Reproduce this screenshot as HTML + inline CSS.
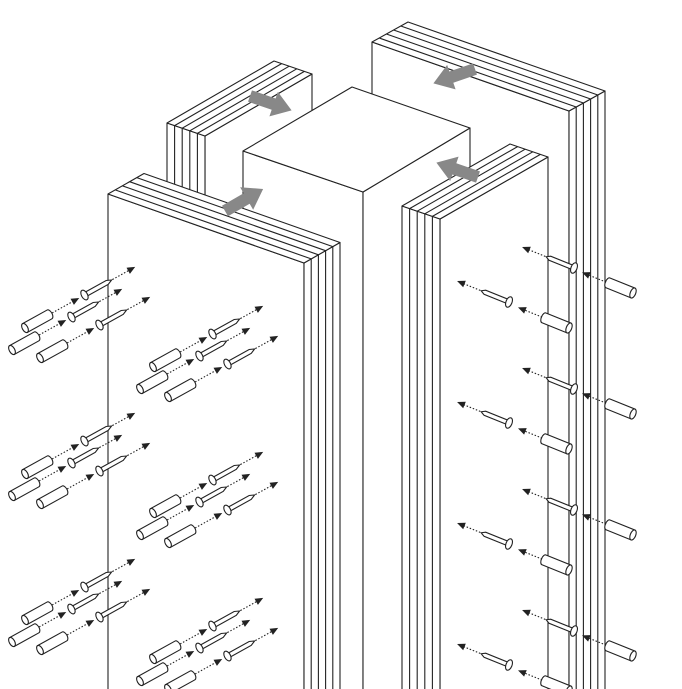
<!DOCTYPE html>
<html><head><meta charset="utf-8"><style>html,body{margin:0;padding:0;background:#fff}svg{display:block}</style></head>
<body>
<svg width="682" height="689" viewBox="0 0 682 689" xmlns="http://www.w3.org/2000/svg">
<defs>
<g id="ln" stroke="#222" stroke-width="1.1" fill="#fff">
  <path d="M0,-5 L28,-5 A2.7,5 0 0 1 28,5 L0,5 Z"/>
  <ellipse cx="0" cy="0" rx="2.7" ry="5"/>
  <line x1="31" y1="0" x2="56" y2="0" stroke-dasharray="1.5 1.8"/>
  <polygon points="62,0 54,-3.5 54,3.5" fill="#222" stroke="none"/>
  <path d="M68,-2.2 L94,-2.2 L99,0 L94,2.2 L68,2.2 Z"/>
  <ellipse cx="68" cy="0" rx="3" ry="5.3"/>
  <line x1="100" y1="0" x2="120" y2="0" stroke-dasharray="1.5 1.8"/>
  <polygon points="126,0 118,-3.5 118,3.5" fill="#222" stroke="none"/>
</g>
<g id="rn" stroke="#222" stroke-width="1.1" fill="#fff">
  <path d="M0,-2.2 L26,-2.2 L30,0 L26,2.2 L0,2.2 Z"/>
  <ellipse cx="0" cy="0" rx="3" ry="5.5"/>
  <line x1="31" y1="0" x2="50" y2="0" stroke-dasharray="1.5 1.8"/>
  <polygon points="56,0 48,-3.5 48,3.5" fill="#222" stroke="none"/>
</g>
<g id="rc" stroke="#222" stroke-width="1.1" fill="#fff">
  <path d="M0,-5.3 L27,-5.3 A2.7,5.3 0 0 1 27,5.3 L0,5.3 Z"/>
  <ellipse cx="0" cy="0" rx="2.7" ry="5.3"/>
  <line x1="29" y1="0" x2="49" y2="0" stroke-dasharray="1.5 1.8"/>
  <polygon points="55,0 47,-3.5 47,3.5" fill="#222" stroke="none"/>
</g>
<path id="ga" d="M0,-6 L25,-6 L25,-13 L44,0 L25,13 L25,6 L0,6 Z" fill="#888"/>
</defs>

<g stroke="#222" stroke-width="1.1" fill="#fff" stroke-linejoin="round">
<polygon points="372,42 569,111 569,700 372,700"/>
<polygon points="569,111 605,91 605,700 569,700"/>
<polygon points="372,42 408,22 605,91 569,111"/>
<g fill="none">
<line x1="379.2" y1="38" x2="576.2" y2="107"/>
<line x1="386.4" y1="34" x2="583.4" y2="103"/>
<line x1="393.6" y1="30" x2="590.6" y2="99"/>
<line x1="400.8" y1="26" x2="597.8" y2="95"/>
<line x1="576.2" y1="107" x2="576.2" y2="700"/>
<line x1="583.4" y1="103" x2="583.4" y2="700"/>
<line x1="590.6" y1="99" x2="590.6" y2="700"/>
<line x1="597.8" y1="95" x2="597.8" y2="700"/>
</g>

<polygon points="205,136 312,74 312,300 205,300"/>
<polygon points="167,123 205,136 205,300 167,300"/>
<polygon points="167,123 274,61 312,74 205,136"/>
<g fill="none">
<line x1="174.6" y1="125.6" x2="281.6" y2="63.6"/>
<line x1="182.2" y1="128.2" x2="289.2" y2="66.2"/>
<line x1="189.8" y1="130.8" x2="296.8" y2="68.8"/>
<line x1="197.4" y1="133.4" x2="304.4" y2="71.4"/>
<line x1="174.6" y1="125.6" x2="174.6" y2="300"/>
<line x1="182.2" y1="128.2" x2="182.2" y2="300"/>
<line x1="189.8" y1="130.8" x2="189.8" y2="300"/>
<line x1="197.4" y1="133.4" x2="197.4" y2="300"/>
</g>

<polygon points="243,151 363,192 363,700 243,700"/>
<polygon points="363,192 470,128 470,700 363,700"/>
<polygon points="243,151 352,87 470,128 363,192"/>

<polygon points="108,194 304,263 304,700 108,700"/>
<polygon points="304,263 340,242.5 340,700 304,700"/>
<polygon points="108,194 144,173.5 340,242.5 304,263"/>
<g fill="none">
<line x1="115.2" y1="189.9" x2="311.2" y2="258.9"/>
<line x1="122.4" y1="185.8" x2="318.4" y2="254.8"/>
<line x1="129.6" y1="181.7" x2="325.6" y2="250.7"/>
<line x1="136.8" y1="177.6" x2="332.8" y2="246.6"/>
<line x1="311.2" y1="258.9" x2="311.2" y2="700"/>
<line x1="318.4" y1="254.8" x2="318.4" y2="700"/>
<line x1="325.6" y1="250.7" x2="325.6" y2="700"/>
<line x1="332.8" y1="246.6" x2="332.8" y2="700"/>
</g>

<polygon points="440,219 548,157 548,700 440,700"/>
<polygon points="402,206 440,219 440,700 402,700"/>
<polygon points="402,206 510,144 548,157 440,219"/>
<g fill="none">
<line x1="409.6" y1="208.6" x2="517.6" y2="146.6"/>
<line x1="417.2" y1="211.2" x2="525.2" y2="149.2"/>
<line x1="424.8" y1="213.8" x2="532.8" y2="151.8"/>
<line x1="432.4" y1="216.4" x2="540.4" y2="154.4"/>
<line x1="409.6" y1="208.6" x2="409.6" y2="700"/>
<line x1="417.2" y1="211.2" x2="417.2" y2="700"/>
<line x1="424.8" y1="213.8" x2="424.8" y2="700"/>
<line x1="432.4" y1="216.4" x2="432.4" y2="700"/>
</g>
</g>

<use href="#ga" transform="translate(250,96) rotate(19)"/>
<use href="#ga" transform="translate(225,211) rotate(-30)"/>
<use href="#ga" transform="translate(475,69) rotate(161)"/>
<use href="#ga" transform="translate(478,177) rotate(199)"/>

<g>
<use href="#ln" transform="translate(25,328) rotate(-29)"/>
<use href="#ln" transform="translate(12,350) rotate(-29)"/>
<use href="#ln" transform="translate(40,358) rotate(-29)"/>
<use href="#ln" transform="translate(153,367) rotate(-29)"/>
<use href="#ln" transform="translate(140,389) rotate(-29)"/>
<use href="#ln" transform="translate(168,397) rotate(-29)"/>

<use href="#ln" transform="translate(25,474) rotate(-29)"/>
<use href="#ln" transform="translate(12,496) rotate(-29)"/>
<use href="#ln" transform="translate(40,504) rotate(-29)"/>
<use href="#ln" transform="translate(153,513) rotate(-29)"/>
<use href="#ln" transform="translate(140,535) rotate(-29)"/>
<use href="#ln" transform="translate(168,543) rotate(-29)"/>

<use href="#ln" transform="translate(25,620) rotate(-29)"/>
<use href="#ln" transform="translate(12,642) rotate(-29)"/>
<use href="#ln" transform="translate(40,650) rotate(-29)"/>
<use href="#ln" transform="translate(153,659) rotate(-29)"/>
<use href="#ln" transform="translate(140,681) rotate(-29)"/>
<use href="#ln" transform="translate(168,689) rotate(-29)"/>
</g>

<g>
<use href="#rn" transform="translate(574,268) rotate(202)"/>
<use href="#rc" transform="translate(633,293) rotate(202)"/>
<use href="#rn" transform="translate(509,302) rotate(202)"/>
<use href="#rc" transform="translate(569,328) rotate(202)"/>

<use href="#rn" transform="translate(574,389) rotate(202)"/>
<use href="#rc" transform="translate(633,414) rotate(202)"/>
<use href="#rn" transform="translate(509,423) rotate(202)"/>
<use href="#rc" transform="translate(569,449) rotate(202)"/>

<use href="#rn" transform="translate(574,510) rotate(202)"/>
<use href="#rc" transform="translate(633,535) rotate(202)"/>
<use href="#rn" transform="translate(509,544) rotate(202)"/>
<use href="#rc" transform="translate(569,570) rotate(202)"/>

<use href="#rn" transform="translate(574,631) rotate(202)"/>
<use href="#rc" transform="translate(633,656) rotate(202)"/>
<use href="#rn" transform="translate(509,665) rotate(202)"/>
<use href="#rc" transform="translate(569,691) rotate(202)"/>
</g>
</svg>
</body></html>
